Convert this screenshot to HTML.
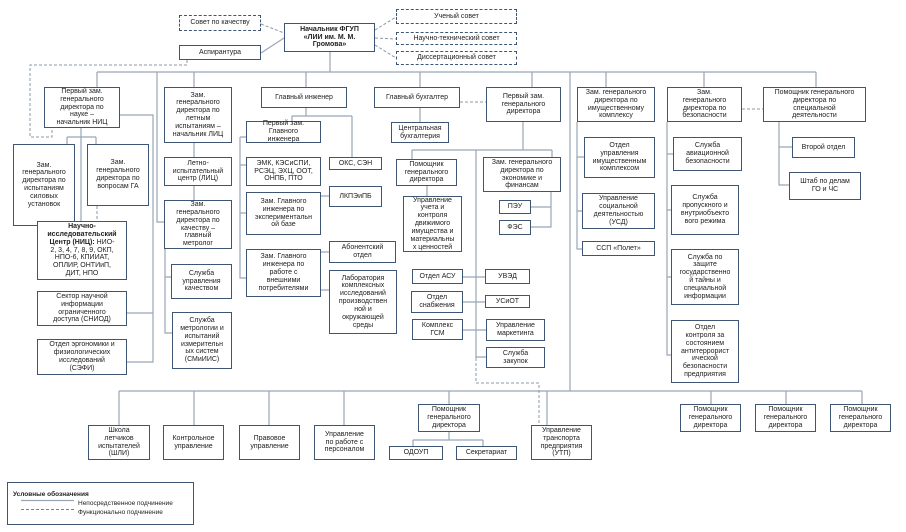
<!DOCTYPE html>
<html><head><meta charset="utf-8"><style>
body{margin:0;width:906px;height:532px;background:#fff;overflow:hidden;position:relative;font-family:"Liberation Sans","DejaVu Sans",sans-serif}
.b{position:absolute;box-sizing:border-box;border:1.3px solid #3e5673;background:#fff;display:flex;align-items:center;justify-content:center;text-align:center;font-size:7px;line-height:1.12;color:#222;padding:0 1px}
.d{border:1.3px dashed #3e5673}
svg{position:absolute;left:0;top:0}
</style></head><body>
<svg width="906" height="532">
<g stroke="#98a6b6" stroke-width="1.2" fill="none">
<path d="M330 52V72M97 72H816M97 72V87M157 72V222H164M194 72V87M306 72V87M420 72V87M532 72V87M570 72V391M606 72V87M704 72V87M816 72V87"/>
<path d="M261 53L284 38"/>
<path d="M81 128V221M67 137H96M67 137V144M96 137V144M120 115H153V362H127M127 313H153"/>
<path d="M165 249V333H172M165 277H171M194 143V157M194 186V200"/>
<path d="M306 108V116M292 116H352M292 116V121M352 116V157M240 137V278H246M240 137H246M240 165H246M240 213H246M321 196H329M321 252H329M321 290H329"/>
<path d="M420 108V122M523 122V150M412 150H552M412 150V159M552 150V157M427 186V196M476 150V358M551 192V227H531M531 207H551"/>
<path d="M463 277H485M463 302H485M463 330H486M476 357H486"/>
<path d="M577 122V249H582M577 157H584M577 211H582"/>
<path d="M667 122V355H671M667 154H673M667 210H671M667 277H671"/>
<path d="M779 122V185H789M779 147H792"/>
<path d="M119 391H862M119 391V425M194 391V425M269 391V425M344 391V425M449 391V404M547 391V425M711 391V404M786 391V404M862 391V404M449 432V440M413 440H483M413 440V446M483 440V446"/>
</g>
<g stroke="#8a98a8" stroke-width="1" fill="none" stroke-dasharray="3,2">
<path d="M261 24L284 33M375 30L396 17M375 38L396 39M375 45L396 58"/>
<path d="M187 60V65H30V137H52V128"/>
<path d="M460 102H486M742 109H763"/>
<path d="M67 226V221M97 206V221"/>
<path d="M476 358V383H539V425"/>
</g>
</svg>

<div class="b d" style="left:179px;top:15px;width:82px;height:16px">Совет по качеству</div>
<div class="b" style="left:284px;top:23px;width:91px;height:29px;font-weight:bold">Начальник ФГУП<br>«ЛИИ им. М. М.<br>Громова»</div>
<div class="b" style="left:179px;top:45px;width:82px;height:15px">Аспирантура</div>
<div class="b d" style="left:396px;top:9px;width:121px;height:15px">Ученый совет</div>
<div class="b d" style="left:396px;top:32px;width:121px;height:13px">Научно-технический совет</div>
<div class="b d" style="left:396px;top:51px;width:121px;height:14px">Диссертационный совет</div>

<div class="b" style="left:44px;top:87px;width:76px;height:41px">Первый зам.<br>генерального<br>директора по<br>науке –<br>начальник НИЦ</div>
<div class="b" style="left:13px;top:144px;width:62px;height:82px">Зам.<br>генерального<br>директора по<br>испытаниям<br>силовых<br>установок</div>
<div class="b" style="left:87px;top:144px;width:62px;height:62px">Зам.<br>генерального<br>директора по<br>вопросам ГА</div>
<div class="b" style="left:37px;top:221px;width:90px;height:59px;font-size:7px"><span><b>Научно-<br>исследовательский<br>Центр (НИЦ):</b> НИО-<br>2, 3, 4, 7, 8, 9, ОКП,<br>НПО-6, КПИИАТ,<br>ОПЛИР, ОНТИиП,<br>ДИТ, НПО</span></div>
<div class="b" style="left:37px;top:291px;width:90px;height:35px">Сектор научной<br>информации<br>ограниченного<br>доступа (СНИОД)</div>
<div class="b" style="left:37px;top:339px;width:90px;height:36px">Отдел эргономики и<br>физиологических<br>исследований<br>(СЭФИ)</div>

<div class="b" style="left:164px;top:87px;width:68px;height:56px">Зам.<br>генерального<br>директора по<br>летным<br>испытаниям –<br>начальник ЛИЦ</div>
<div class="b" style="left:164px;top:157px;width:68px;height:29px">Летно-<br>испытательный<br>центр (ЛИЦ)</div>
<div class="b" style="left:164px;top:200px;width:68px;height:49px">Зам.<br>генерального<br>директора по<br>качеству –<br>главный<br>метролог</div>
<div class="b" style="left:171px;top:264px;width:61px;height:35px">Служба<br>управления<br>качеством</div>
<div class="b" style="left:172px;top:312px;width:60px;height:57px">Служба<br>метрологии и<br>испытаний<br>измерительн<br>ых систем<br>(СМиИИС)</div>

<div class="b" style="left:261px;top:87px;width:86px;height:21px">Главный инженер</div>
<div class="b" style="left:246px;top:121px;width:75px;height:22px">Первый зам. Главного<br>инженера</div>
<div class="b" style="left:329px;top:157px;width:53px;height:13px">ОКС, СЭН</div>
<div class="b" style="left:246px;top:157px;width:75px;height:29px">ЭМК, КЭСиСПИ,<br>РСЭЦ, ЭХЦ, ООТ,<br>ОНПБ, ПТО</div>
<div class="b" style="left:329px;top:186px;width:53px;height:21px">ЛКПЭиПБ</div>
<div class="b" style="left:246px;top:192px;width:75px;height:43px">Зам. Главного<br>инженера по<br>экспериментальн<br>ой базе</div>
<div class="b" style="left:246px;top:249px;width:75px;height:48px">Зам. Главного<br>инженера по<br>работе с<br>внешними<br>потребителями</div>
<div class="b" style="left:329px;top:241px;width:67px;height:22px">Абонентский<br>отдел</div>
<div class="b" style="left:329px;top:270px;width:68px;height:64px">Лаборатория<br>комплексных<br>исследований<br>производствен<br>ной и<br>окружающей<br>среды</div>

<div class="b" style="left:374px;top:87px;width:86px;height:21px">Главный бухгалтер</div>
<div class="b" style="left:391px;top:122px;width:58px;height:21px">Центральная<br>бухгалтерия</div>
<div class="b" style="left:486px;top:87px;width:75px;height:35px">Первый зам.<br>генерального<br>директора</div>
<div class="b" style="left:396px;top:159px;width:61px;height:27px">Помощник<br>генерального<br>директора</div>
<div class="b" style="left:483px;top:157px;width:78px;height:35px">Зам. генерального<br>директора по<br>экономике и<br>финансам</div>
<div class="b" style="left:403px;top:196px;width:59px;height:56px">Управление<br>учета и<br>контроля<br>движимого<br>имущества и<br>материальны<br>х ценностей</div>
<div class="b" style="left:499px;top:200px;width:32px;height:14px">ПЭУ</div>
<div class="b" style="left:499px;top:220px;width:32px;height:15px">ФЭС</div>
<div class="b" style="left:412px;top:269px;width:51px;height:15px">Отдел АСУ</div>
<div class="b" style="left:485px;top:269px;width:45px;height:15px">УВЭД</div>
<div class="b" style="left:411px;top:291px;width:52px;height:22px">Отдел<br>снабжения</div>
<div class="b" style="left:485px;top:295px;width:45px;height:13px">УСиОТ</div>
<div class="b" style="left:412px;top:319px;width:51px;height:21px">Комплекс<br>ГСМ</div>
<div class="b" style="left:486px;top:319px;width:59px;height:22px">Управление<br>маркетинга</div>
<div class="b" style="left:486px;top:347px;width:59px;height:21px">Служба<br>закупок</div>

<div class="b" style="left:577px;top:87px;width:78px;height:35px">Зам. генерального<br>директора по<br>имущественному<br>комплексу</div>
<div class="b" style="left:584px;top:137px;width:71px;height:41px">Отдел<br>управления<br>имущественным<br>комплексом</div>
<div class="b" style="left:582px;top:193px;width:73px;height:36px">Управление<br>социальной<br>деятельностью<br>(УСД)</div>
<div class="b" style="left:582px;top:241px;width:73px;height:15px">ССП «Полет»</div>

<div class="b" style="left:667px;top:87px;width:75px;height:35px">Зам.<br>генерального<br>директора по<br>безопасности</div>
<div class="b" style="left:673px;top:137px;width:69px;height:34px">Служба<br>авиационной<br>безопасности</div>
<div class="b" style="left:671px;top:185px;width:68px;height:50px">Служба<br>пропускного и<br>внутриобъекто<br>вого режима</div>
<div class="b" style="left:671px;top:249px;width:68px;height:56px">Служба по<br>защите<br>государственно<br>й тайны и<br>специальной<br>информации</div>
<div class="b" style="left:671px;top:320px;width:68px;height:63px">Отдел<br>контроля за<br>состоянием<br>антитеррорист<br>ической<br>безопасности<br>предприятия</div>

<div class="b" style="left:763px;top:87px;width:103px;height:35px">Помощник генерального<br>директора по<br>специальной<br>деятельности</div>
<div class="b" style="left:792px;top:137px;width:63px;height:21px">Второй отдел</div>
<div class="b" style="left:789px;top:172px;width:72px;height:28px">Штаб по делам<br>ГО и ЧС</div>

<div class="b" style="left:88px;top:425px;width:62px;height:35px">Школа<br>летчиков<br>испытателей<br>(ШЛИ)</div>
<div class="b" style="left:163px;top:425px;width:61px;height:35px">Контрольное<br>управление</div>
<div class="b" style="left:239px;top:425px;width:61px;height:35px">Правовое<br>управление</div>
<div class="b" style="left:314px;top:425px;width:61px;height:35px">Управление<br>по работе с<br>персоналом</div>
<div class="b" style="left:418px;top:404px;width:62px;height:28px">Помощник<br>генерального<br>директора</div>
<div class="b" style="left:389px;top:446px;width:54px;height:14px">ОДОУП</div>
<div class="b" style="left:456px;top:446px;width:61px;height:14px">Секретариат</div>
<div class="b" style="left:531px;top:425px;width:61px;height:35px">Управление<br>транспорта<br>предприятия<br>(УТП)</div>
<div class="b" style="left:680px;top:404px;width:61px;height:28px">Помощник<br>генерального<br>директора</div>
<div class="b" style="left:755px;top:404px;width:61px;height:28px">Помощник<br>генерального<br>директора</div>
<div class="b" style="left:830px;top:404px;width:61px;height:28px">Помощник<br>генерального<br>директора</div>

<div class="b" style="left:7px;top:482px;width:187px;height:43px;display:block;text-align:left;padding:8px 0 0 5px;font-size:6.5px;line-height:1.35">
<b>Условные обозначения</b><br>
<span style="margin-left:65px">Непосредственное подчинение</span><br>
<span style="margin-left:65px">Функционально подчинение</span>
<svg width="60" height="30" style="left:6px;top:14px">
<path d="M7 3.5H60" stroke="#98a6b6" stroke-width="1.2"/>
<path d="M7 12.5H60" stroke="#555" stroke-width="0.8" stroke-dasharray="3,2"/>
</svg></div>
</body></html>
